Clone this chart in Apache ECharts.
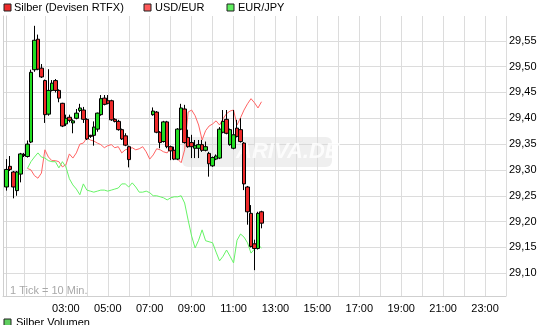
<!DOCTYPE html>
<html><head><meta charset="utf-8">
<script src="https://cdn.jsdelivr.net/npm/echarts@6/dist/echarts.min.js"></script>
<style>html,body{margin:0;padding:0;background:#fff}#c{width:556px;height:325px}</style>
</head><body><div id="c"></div>
<script>
const candleTimes = ['00:10','00:20','00:30','00:40','00:50','01:00','01:10','01:20','01:30','01:40','01:50','02:00','02:10','02:20','02:30','02:40','02:50','03:00','03:10','03:20','03:30','03:40','03:50','04:00','04:10','04:20','04:30','04:40','04:50','05:00','05:10','05:20','05:30','05:40','05:50','06:00',
'07:10','07:20','07:30','07:40','07:50','08:00','08:10','08:20','08:30','08:40','08:50','09:00','09:10','09:20','09:30','09:40','09:50','10:00','10:10','10:20','10:30','10:40','10:50','11:00','11:10','11:20','11:30','11:40','11:50','12:00','12:10','12:20'];
const opens = [29.267,29.307,29.296,29.260,29.292,29.330,29.326,29.354,29.494,29.553,29.497,29.473,29.408,29.454,29.473,29.454,29.429,29.389,29.402,29.391,29.400,29.415,29.416,29.398,29.367,29.367,29.379,29.407,29.439,29.434,29.434,29.398,29.394,29.378,29.366,29.345,
29.407,29.412,29.373,29.355,29.393,29.345,29.338,29.321,29.379,29.418,29.363,29.353,29.342,29.342,29.349,29.338,29.332,29.308,29.321,29.323,29.373,29.398,29.349,29.342,29.381,29.378,29.352,29.267,29.216,29.157,29.148,29.219];
const closes = [29.301,29.301,29.267,29.296,29.331,29.328,29.350,29.489,29.551,29.495,29.480,29.407,29.454,29.468,29.454,29.439,29.385,29.400,29.396,29.395,29.410,29.420,29.398,29.360,29.365,29.383,29.410,29.438,29.427,29.429,29.397,29.394,29.378,29.360,29.348,29.320,
29.414,29.373,29.353,29.393,29.345,29.337,29.321,29.379,29.420,29.353,29.345,29.345,29.347,29.349,29.338,29.345,29.312,29.324,29.327,29.379,29.394,29.371,29.378,29.368,29.365,29.355,29.273,29.219,29.152,29.148,29.216,29.197];
const lows = [29.260,29.298,29.245,29.250,29.276,29.325,29.324,29.352,29.490,29.493,29.478,29.391,29.405,29.452,29.450,29.431,29.383,29.385,29.392,29.371,29.398,29.412,29.391,29.358,29.362,29.347,29.374,29.405,29.425,29.427,29.395,29.392,29.376,29.358,29.346,29.305,
29.405,29.371,29.342,29.353,29.342,29.319,29.319,29.319,29.377,29.351,29.343,29.323,29.323,29.323,29.335,29.336,29.287,29.306,29.319,29.321,29.371,29.369,29.347,29.340,29.363,29.353,29.261,29.194,29.150,29.106,29.146,29.187];
const highs = [29.321,29.327,29.298,29.298,29.333,29.333,29.357,29.494,29.579,29.562,29.505,29.475,29.495,29.474,29.476,29.456,29.430,29.407,29.407,29.398,29.418,29.428,29.422,29.400,29.368,29.394,29.411,29.445,29.445,29.445,29.436,29.400,29.397,29.380,29.371,29.347,
29.421,29.414,29.375,29.395,29.395,29.347,29.345,29.381,29.428,29.426,29.378,29.368,29.358,29.358,29.358,29.355,29.335,29.326,29.330,29.383,29.416,29.416,29.380,29.416,29.397,29.400,29.354,29.269,29.232,29.165,29.219,29.221];

const lineTimes = ['01:10','01:20','01:30','01:40','01:50','02:00','02:10','02:20','02:30','02:40','02:50','03:00','03:10','03:20','03:30','03:40','03:50','04:00','04:10','04:20','04:30','04:40','04:50','05:00','05:10','05:20','05:30','05:40','05:50','06:00','06:10','06:20','06:30','06:40','06:50','07:00','07:10','07:20','07:30','07:40','07:50','08:00','08:10','08:20','08:30','08:40','08:50','09:00','09:10','09:20','09:30','09:40','09:50','10:00','10:10','10:20','10:30','10:40','10:50','11:00','11:10','11:20','11:30','11:40','11:50','12:00','12:10','12:20'];
const usdEur = [29.303,29.300,29.289,29.284,29.294,29.339,29.325,29.318,29.318,29.316,29.306,29.310,29.331,29.323,29.333,29.350,29.352,29.362,29.358,29.356,29.352,29.349,29.343,29.347,29.349,29.343,29.345,29.333,29.339,29.341,29.343,29.339,29.341,29.345,29.335,29.321,29.329,29.341,29.339,29.335,29.333,29.343,29.339,29.321,29.314,29.339,29.412,29.416,29.405,29.387,29.358,29.376,29.385,29.389,29.395,29.387,29.399,29.409,29.414,29.416,29.387,29.401,29.416,29.428,29.438,29.430,29.420,29.432];
const eurJpy = [29.303,29.316,29.325,29.333,29.325,29.323,29.318,29.316,29.316,29.304,29.316,29.306,29.283,29.271,29.263,29.252,29.273,29.261,29.259,29.257,29.259,29.261,29.261,29.259,29.261,29.263,29.265,29.273,29.273,29.267,29.275,29.267,29.257,29.257,29.259,29.256,29.250,29.250,29.248,29.246,29.242,29.246,29.248,29.248,29.250,29.236,29.203,29.172,29.149,29.164,29.184,29.163,29.161,29.159,29.141,29.124,29.133,29.145,29.133,29.120,29.164,29.176,29.170,29.159,29.139,29.147,29.155,29.149];

const xTickLabels = ['03:00','05:00','07:00','09:00','11:00','13:00','15:00','17:00','19:00','21:00','23:00'];
const yTickLabels = ['29,10','29,15','29,20','29,25','29,30','29,35','29,40','29,45','29,50','29,55'];

const toMin = t => { const p = t.split(':'); return (+p[0]) * 60 + (+p[1]); };
const candleData = candleTimes.map((t, i) => [toMin(t), opens[i], closes[i], lows[i], highs[i]]);
const usdData = lineTimes.map((t, i) => [toMin(t), usdEur[i]]);
const jpyData = lineTimes.map((t, i) => [toMin(t), eurJpy[i]]);

const FONT = 'Liberation Sans, Arial, sans-serif';
const chart = echarts.init(document.getElementById('c'), null, {renderer: 'canvas'});
chart.setOption({
  animation: false,
  backgroundColor: '#fff',
  grid: {left: 2, top: 16, width: 504, height: 280, containLabel: false},
  xAxis: {
    type: 'value', min: 0, max: 1440, interval: 60,
    axisLine: {show: true, onZero: false, lineStyle: {color: '#cfcfcf'}},
    axisTick: {show: false},
    splitLine: {show: true, lineStyle: {color: '#dcdcdc'}},
    axisLabel: {
      color: '#000', fontSize: 11, fontFamily: FONT, margin: 7,
      formatter: v => { const s = String(Math.floor(v / 60)).padStart(2, '0') + ':00'; return xTickLabels.indexOf(s) >= 0 ? s : ''; }
    }
  },
  yAxis: [{
    type: 'value', position: 'right', min: 29.056, max: 29.598, splitNumber: 10,
    axisLine: {show: true, lineStyle: {color: '#cfcfcf'}},
    axisTick: {show: false},
    splitLine: {show: true, showMaxLine: false, lineStyle: {color: '#dcdcdc'}},
    axisLabel: {
      color: '#000', fontSize: 11, fontFamily: FONT, margin: 3, padding: [6, 0, 0, 0],
      showMinLabel: false, showMaxLabel: false,
      formatter: v => { const s = v.toFixed(2).replace('.', ','); return yTickLabels.indexOf(s) >= 0 ? s : ''; }
    }
  }, {
    type: 'value', position: 'left', offset: -3, min: 29.056, max: 29.598,
    axisLine: {show: true, lineStyle: {color: '#d4d4d4'}},
    axisTick: {show: false}, axisLabel: {show: false}, splitLine: {show: false}
  }],
  series: [
    {type: 'line', data: usdData, showSymbol: false, symbol: 'none', z: 3,
     lineStyle: {color: '#ff6464', width: 1}},
    {type: 'line', data: jpyData, showSymbol: false, symbol: 'none', z: 3,
     lineStyle: {color: '#66f466', width: 1}},
    {type: 'candlestick', data: candleData, encode: {x: 0, y: [1, 2, 3, 4]}, barWidth: 4, z: 4,
     itemStyle: {color: '#22dd22', color0: '#ee2a2a', borderColor: '#000', borderColor0: '#000', borderWidth: 1}}
  ],
  graphic: [
    {type: 'rect', z: 1, shape: {x: 182, y: 137, width: 150, height: 30, r: 6}, style: {fill: 'rgba(215,215,215,0.4)'}},
    {type: 'text', z: 1, x: 236, y: 141, style: {text: 'ARIVA.DE', fill: 'rgba(255,255,255,0.8)', font: 'italic bold 22px ' + FONT}},
    {type: 'rect', z: 10, shape: {x: 4, y: 4, width: 7, height: 7}, style: {fill: '#ee2a2a', stroke: '#222', lineWidth: 1}},
    {type: 'text', z: 10, x: 14, y: 2, style: {text: 'Silber (Devisen RTFX)', fill: '#000', font: '11px ' + FONT}},
    {type: 'rect', z: 10, shape: {x: 144, y: 4, width: 7, height: 7}, style: {fill: '#ff5a5a', stroke: '#222', lineWidth: 1}},
    {type: 'text', z: 10, x: 155, y: 2, style: {text: 'USD/EUR', fill: '#000', font: '11px ' + FONT}},
    {type: 'rect', z: 10, shape: {x: 227, y: 4, width: 7, height: 7}, style: {fill: '#5fef5f', stroke: '#222', lineWidth: 1}},
    {type: 'text', z: 10, x: 238, y: 2, style: {text: 'EUR/JPY', fill: '#000', font: '11px ' + FONT}},
    {type: 'text', z: 10, x: 10, y: 285, style: {text: '1 Tick = 10 Min.', fill: '#a8a8a8', font: '11px ' + FONT}},
    {type: 'rect', z: 10, shape: {x: 4, y: 319, width: 7, height: 7}, style: {fill: '#5fcf5f', stroke: '#222', lineWidth: 1}},
    {type: 'text', z: 10, x: 16, y: 317, style: {text: 'Silber Volumen', fill: '#000', font: '11px ' + FONT}}
  ]
});
</script></body></html>
